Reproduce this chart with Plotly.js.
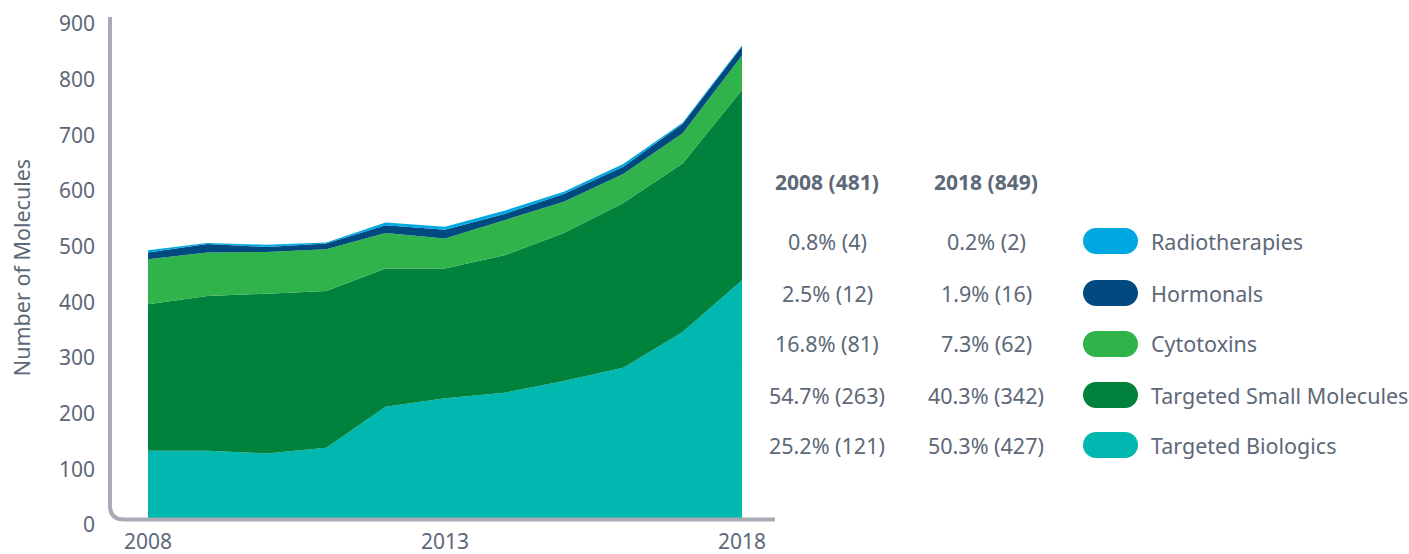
<!DOCTYPE html>
<html>
<head>
<meta charset="utf-8">
<script src="https://cdn.plot.ly/plotly-3.0.1.min.js"></script>
<style>
  html, body { margin: 0; padding: 0; background: #ffffff; }
  #chart { width: 1409px; height: 554px; }
</style>
</head>
<body>
<div id="chart"></div>
<script>
// ---- data ----
const years = [2008, 2009, 2010, 2011, 2012, 2013, 2014, 2015, 2016, 2017, 2018];
const targetedBiologics      = [121, 121, 116, 126, 200, 215, 225, 246, 270, 334, 427];
const targetedSmallMolecules = [263, 278, 287, 282, 248, 233, 247, 266, 296, 303, 342];
const cytotoxins             = [81, 78, 75, 75, 64, 54, 63, 56, 52, 54, 62];
const hormonals              = [12, 15, 9, 10, 14, 16, 11, 14, 13, 17, 16];
const radiotherapies         = [4, 2, 4, 2, 5, 5, 6, 4, 5, 2, 2];

const seriesNames  = ["Targeted Biologics", "Targeted Small Molecules", "Cytotoxins", "Hormonals", "Radiotherapies"];
const seriesColors = ["#00b8b0", "#00813c", "#31b34b", "#004a80", "#00a8e2"];
const seriesValues = [targetedBiologics, targetedSmallMolecules, cytotoxins, hormonals, radiotherapies];

const xTickVals = [2008, 2013, 2018];
const yTitle = "Number of Molecules";

const textColor = "#5d6878";
const font = "Noto Sans, Open Sans, sans-serif";
const fs = 21.5;

// ---- traces ----
const traces = seriesValues.map((vals, i) => ({
  type: "scatter",
  mode: "lines",
  x: years,
  y: vals,
  name: seriesNames[i],
  stackgroup: "one",
  line: { width: 0, color: seriesColors[i] },
  fillcolor: seriesColors[i],
  hoverinfo: "skip",
  showlegend: false
}));

// ---- geometry helpers (plot area: x 111..775 px, y 17..518 px) ----
const L = 111, R = 775, T = 17, B = 518;
const px2paperX = (px) => (px - L) / (R - L);
const px2paperY = (py) => (B - py) / (B - T);

const annotations = [];
const shapes = [];

// axis line with rounded corner (paper coords)
const ax = px2paperX(110), ay = px2paperY(519.5);
const rx = 14 / (R - L), ry = 14 / (B - T);
shapes.push({
  type: "path", xref: "paper", yref: "paper", layer: "above",
  path: `M ${ax},1 L ${ax},${ay + ry} Q ${ax},${ay} ${ax + rx},${ay} L 1,${ay}`,
  line: { color: "#a8abb6", width: 4 }
});

// table columns
const firstIdx = 0, lastIdx = years.length - 1;
const total = (idx) => seriesValues.reduce((s, v) => s + v[idx], 0);
const colX = [px2paperX(827), px2paperX(986)];
const headerY = px2paperY(182);
const rowY = [241, 293, 344, 395, 445].map(px2paperY);
const tableOrder = [4, 3, 2, 1, 0]; // Radiotherapies at top

[firstIdx, lastIdx].forEach((idx, c) => {
  const tot = total(idx);
  annotations.push({
    xref: "paper", yref: "paper", x: colX[c], y: headerY,
    xanchor: "center", yanchor: "middle", showarrow: false,
    text: `<b>${years[idx]} (${tot})</b>`,
    font: { family: font, size: 21, color: textColor }
  });
  tableOrder.forEach((s, r) => {
    const v = seriesValues[s][idx];
    annotations.push({
      xref: "paper", yref: "paper", x: colX[c], y: rowY[r],
      xanchor: "center", yanchor: "middle", showarrow: false,
      text: `${(100 * v / tot).toFixed(1)}% (${v})`,
      font: { family: font, size: fs, color: textColor }
    });
  });
});

// legend pills and labels
const pill = "M -14.5,-13 L 14.5,-13 C 21.7,-13 27.5,-7.2 27.5,0 C 27.5,7.2 21.7,13 14.5,13 L -14.5,13 C -21.7,13 -27.5,7.2 -27.5,0 C -27.5,-7.2 -21.7,-13 -14.5,-13 Z";
tableOrder.forEach((s, r) => {
  shapes.push({
    type: "path", xref: "paper", yref: "paper",
    xsizemode: "pixel", ysizemode: "pixel",
    xanchor: px2paperX(1110.5), yanchor: rowY[r],
    path: pill, fillcolor: seriesColors[s], line: { width: 0 }
  });
  annotations.push({
    xref: "paper", yref: "paper", x: px2paperX(1149), y: rowY[r],
    xanchor: "left", yanchor: "middle", showarrow: false,
    text: seriesNames[s],
    font: { family: font, size: fs, color: textColor }
  });
});

const layout = {
  width: 1409, height: 554,
  margin: { l: L, r: 1409 - R, t: T, b: 554 - B, pad: 0 },
  paper_bgcolor: "#ffffff", plot_bgcolor: "#ffffff",
  showlegend: false,
  hovermode: false,
  font: { family: font, color: textColor, size: 20 },
  xaxis: {
    range: [2007.377, 2018.556],
    tickvals: xTickVals,
    ticks: "", showgrid: false, zeroline: false, showline: false,
    tickfont: { family: font, size: 21, color: textColor },
    ticklabelstandoff: 9
  },
  yaxis: {
    range: [0, 900],
    dtick: 100, tick0: 0,
    ticks: "", showgrid: false, zeroline: false, showline: false,
    tickfont: { family: font, size: 21, color: textColor },
    ticklabelshift: 7,
    ticklabelstandoff: 15,
    title: { text: yTitle, font: { family: font, size: fs, color: textColor }, standoff: 22 }
  },
  shapes: shapes,
  annotations: annotations
};

Plotly.newPlot("chart", traces, layout, { staticPlot: true, displayModeBar: false });
</script>
</body>
</html>
